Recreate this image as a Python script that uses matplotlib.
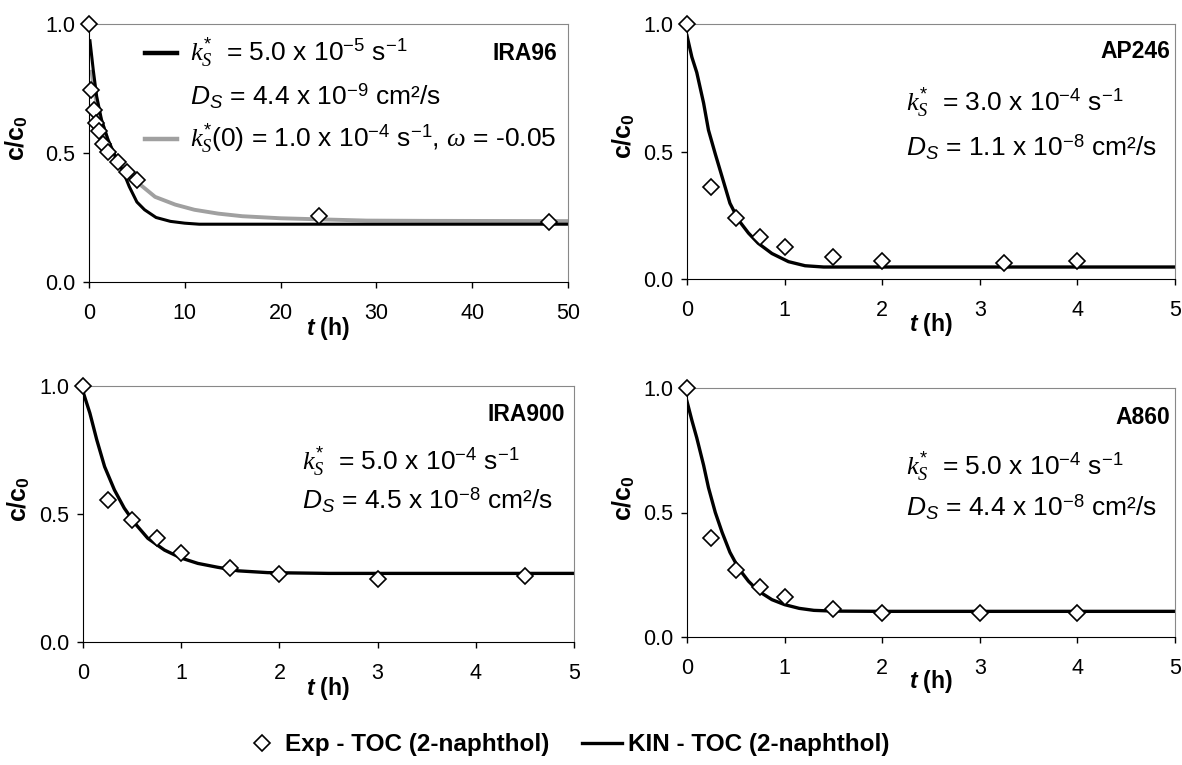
import matplotlib
matplotlib.use("Agg")
import matplotlib.pyplot as plt
from matplotlib.lines import Line2D

plt.rcParams["font.family"] = ["Liberation Sans", "DejaVu Sans"]
plt.rcParams["mathtext.fontset"] = "custom"
plt.rcParams["mathtext.rm"] = "Liberation Sans"
plt.rcParams["mathtext.it"] = "Liberation Serif:italic"
plt.rcParams["mathtext.sf"] = "Liberation Sans:italic"
plt.rcParams["mathtext.bf"] = "Liberation Sans:bold"
plt.rcParams["mathtext.bfit"] = "Liberation Sans:italic:bold"

W, H = 1182, 765

# ---- data ----
# IRA96
ira96_exp_t = [0, 0.25, 0.5, 0.75, 1, 1.5, 2, 3, 4, 5, 24, 48]
ira96_exp_c = [1.0, 0.745, 0.665, 0.615, 0.587, 0.535, 0.502, 0.467, 0.426, 0.396, 0.257, 0.234]
ira96_kin_t = [0.1, 0.45, 0.8, 1.3, 2.0, 2.9, 3.6, 4.2, 5.0, 5.8, 7.0, 8.5, 10.0, 11.5, 20, 30, 40, 50]
ira96_kin_c = [0.935, 0.82, 0.72, 0.63, 0.55, 0.475, 0.425, 0.37, 0.31, 0.28, 0.25, 0.235, 0.228,
               0.224, 0.224, 0.224, 0.224, 0.224]
ira96_w_t = [0.28, 0.6, 1.15, 1.85, 2.7, 3.75, 5.1, 6.9, 9.0, 11.0, 13.5, 16, 20, 25, 29, 35, 50]
ira96_w_c = [0.815, 0.73, 0.64, 0.56, 0.485, 0.44, 0.385, 0.33, 0.30, 0.28, 0.265, 0.255, 0.247,
             0.242, 0.238, 0.237, 0.236]

# AP246
ap246_exp_t = [0, 0.25, 0.5, 0.75, 1, 1.5, 2, 3.25, 4]
ap246_exp_c = [1.0, 0.362, 0.24, 0.163, 0.124, 0.085, 0.069, 0.063, 0.069]
ap246_kin_t = [0, 0.05, 0.10, 0.17, 0.22, 0.29, 0.36, 0.44, 0.53, 0.63, 0.73, 0.87, 1.04, 1.21,
               1.4, 2, 3, 4, 5]
ap246_kin_c = [0.954, 0.87, 0.81, 0.69, 0.584, 0.49, 0.40, 0.297, 0.23, 0.18, 0.14, 0.10, 0.068,
               0.052, 0.047, 0.047, 0.047, 0.047, 0.047]

# IRA900
ira900_exp_t = [0, 0.25, 0.5, 0.75, 1, 1.5, 2, 3, 4.5]
ira900_exp_c = [1.0, 0.555, 0.475, 0.408, 0.347, 0.289, 0.265, 0.247, 0.259]
ira900_kin_t = [0, 0.07, 0.14, 0.22, 0.32, 0.42, 0.53, 0.66, 0.83, 1.0, 1.17, 1.37, 1.58, 1.88,
                2.5, 3, 4, 5]
ira900_kin_c = [0.978, 0.894, 0.79, 0.685, 0.594, 0.523, 0.463, 0.405, 0.359, 0.328, 0.307, 0.292,
                0.278, 0.271, 0.268, 0.268, 0.268, 0.268]

# A860
a860_exp_t = [0, 0.25, 0.5, 0.75, 1, 1.5, 2, 3, 4]
a860_exp_c = [1.0, 0.398, 0.268, 0.2, 0.159, 0.112, 0.096, 0.096, 0.096]
a860_kin_t = [0, 0.05, 0.10, 0.17, 0.22, 0.29, 0.36, 0.44, 0.53, 0.63, 0.73, 0.87, 1.0, 1.15, 1.3,
              1.5, 2, 3, 4, 5]
a860_kin_c = [0.946, 0.87, 0.80, 0.69, 0.60, 0.50, 0.42, 0.34, 0.275, 0.224, 0.185, 0.15, 0.13,
              0.115, 0.107, 0.104, 0.103, 0.103, 0.103, 0.103]

y_ticks = [0.0, 0.5, 1.0]
x_ticks_long = [0, 10, 20, 30, 40, 50]
x_ticks_short = [0, 1, 2, 3, 4, 5]
legend_labels = ["Exp - TOC (2-naphthol)", "KIN - TOC (2-naphthol)"]


def fx(x):
    return x / W


def fy(y):
    return 1 - y / H


def make_axes(left, right, top, bottom):
    return fig.add_axes([fx(left), fy(bottom), (right - left) / W, (bottom - top) / H])


def style(ax, xmax, xticks, ylab_x, ylab_y):
    ax.set_xlim(0, xmax)
    ax.set_ylim(0, 1.0)
    ax.set_xticks(xticks)
    ax.set_yticks(y_ticks)
    ax.set_yticklabels([f"{v:.1f}" for v in y_ticks])
    for s in ["top", "right"]:
        ax.spines[s].set_color("#888888")
    for s in ["left", "bottom"]:
        ax.spines[s].set_color("black")
    ax.tick_params(direction="out", length=4, width=1, labelsize=15.5)
    ax.tick_params(axis="x", pad=11)
    ax.tick_params(axis="y", pad=6)
    ax.set_xlabel(r"$\mathbfit{t}$ (h)", fontsize=16.5, fontweight="bold", va="center")
    ax.xaxis.set_label_coords(0.5, -0.18)
    ax.set_ylabel(r"$\mathbf{c/c}_{\mathbf{0}}$", fontsize=18, va="center")
    ax.yaxis.set_label_coords(ylab_x, ylab_y)


def exp_points(ax, t, c):
    ax.plot(t, c, linestyle="none", marker="D", markersize=8, markerfacecolor="white",
            markeredgecolor="black", markeredgewidth=1.2, clip_on=False, zorder=3)


fig = plt.figure(figsize=(W / 100, H / 100), dpi=100)

ax1 = make_axes(89, 568, 24, 282)
ax2 = make_axes(687, 1175, 24, 279)
ax3 = make_axes(83, 574, 386, 642)
ax4 = make_axes(687, 1175, 388, 637)

# IRA96
ax1.plot(ira96_w_t, ira96_w_c, color="#a0a0a0", lw=2.8, zorder=2)
ax1.plot(ira96_kin_t, ira96_kin_c, color="black", lw=2.2, zorder=2)
exp_points(ax1, ira96_exp_t, ira96_exp_c)
style(ax1, 50, x_ticks_long, -0.15, 0.56)

# AP246
ax2.plot(ap246_kin_t, ap246_kin_c, color="black", lw=2.4, zorder=2)
exp_points(ax2, ap246_exp_t, ap246_exp_c)
style(ax2, 5, x_ticks_short, -0.13, 0.56)

# IRA900
ax3.plot(ira900_kin_t, ira900_kin_c, color="black", lw=2.4, zorder=2)
exp_points(ax3, ira900_exp_t, ira900_exp_c)
style(ax3, 5, x_ticks_short, -0.13, 0.56)

# A860
ax4.plot(a860_kin_t, a860_kin_c, color="black", lw=2.4, zorder=2)
exp_points(ax4, a860_exp_t, a860_exp_c)
style(ax4, 5, x_ticks_short, -0.13, 0.56)

# panel annotations
ks = r"$\mathit{k}_{\mathit{S}}^{*}$"
ds = r"$\mathsf{D}_{\mathsf{S}}$"
fs_ann = 19
fs_name = 16.5

fig.text(fx(557), fy(53), "IRA96", ha="right", va="center", fontsize=fs_name, fontweight="bold")
fig.text(fx(190), fy(53), ks + r"  = 5.0 x 10$^{-5}$ s$^{-1}$", va="center", fontsize=fs_ann)
fig.text(fx(190), fy(96), ds + r" = 4.4 x 10$^{-9}$ cm²/s", va="center", fontsize=fs_ann)
fig.text(fx(190), fy(139), ks + r"(0) = 1.0 x 10$^{-4}$ s$^{-1}$, $\omega$ = -0.05",
         va="center", fontsize=fs_ann)
fig.add_artist(Line2D([fx(145), fx(177)], [fy(53), fy(53)], color="black", lw=3.2))
fig.add_artist(Line2D([fx(145), fx(177)], [fy(139), fy(139)], color="#a0a0a0", lw=3.2))

fig.text(fx(1170), fy(52), "AP246", ha="right", va="center", fontsize=fs_name, fontweight="bold")
fig.text(fx(906), fy(103), ks + r"  = 3.0 x 10$^{-4}$ s$^{-1}$", va="center", fontsize=fs_ann)
fig.text(fx(906), fy(147), ds + r" = 1.1 x 10$^{-8}$ cm²/s", va="center", fontsize=fs_ann)

fig.text(fx(565), fy(415), "IRA900", ha="right", va="center", fontsize=fs_name, fontweight="bold")
fig.text(fx(302), fy(462), ks + r"  = 5.0 x 10$^{-4}$ s$^{-1}$", va="center", fontsize=fs_ann)
fig.text(fx(302), fy(500), ds + r" = 4.5 x 10$^{-8}$ cm²/s", va="center", fontsize=fs_ann)

fig.text(fx(1170), fy(418), "A860", ha="right", va="center", fontsize=fs_name, fontweight="bold")
fig.text(fx(906), fy(467), ks + r"  = 5.0 x 10$^{-4}$ s$^{-1}$", va="center", fontsize=fs_ann)
fig.text(fx(906), fy(507), ds + r" = 4.4 x 10$^{-8}$ cm²/s", va="center", fontsize=fs_ann)

# bottom legend, one entry per legend so each key keeps its own spacing
leg_font = {"weight": "bold", "size": 17.5}
h_exp = Line2D([], [], linestyle="none", marker="D", markersize=8, markerfacecolor="white",
               markeredgecolor="black", markeredgewidth=1.2)
h_kin = Line2D([], [], color="black", lw=2.4)
fig.legend([h_exp], legend_labels[:1], loc="center left", bbox_to_anchor=(fx(250), fy(745)),
           frameon=False, prop=leg_font, handlelength=1.0, handletextpad=0.45,
           borderpad=0, borderaxespad=0)
fig.legend([h_kin], legend_labels[1:], loc="center left", bbox_to_anchor=(fx(582), fy(745)),
           frameon=False, prop=leg_font, handlelength=1.65, handletextpad=0.25,
           borderpad=0, borderaxespad=0)

fig.savefig("out.png", dpi=100)
